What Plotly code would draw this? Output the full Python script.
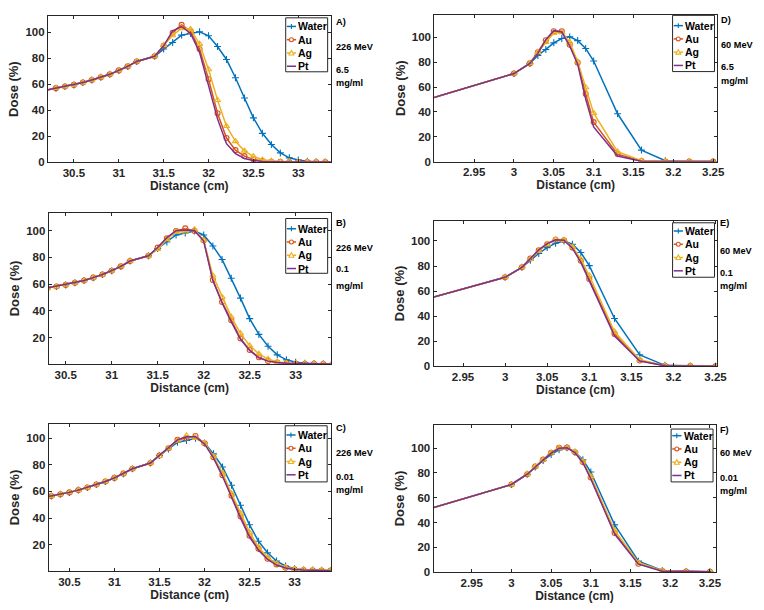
import plotly.graph_objects as go

W, H = 764, 610

# ---------------- data ----------------
# 226 MeV panels (A, B, C): distance in cm
x226 = [30.0, 30.3, 30.4, 30.5, 30.6, 30.7, 30.8, 30.9, 31.0, 31.1, 31.2, 31.4,
        31.5, 31.6, 31.7, 31.8, 31.9, 32.0, 32.1, 32.2, 32.3, 32.4, 32.5, 32.6,
        32.7, 32.8, 32.9, 33.0, 33.1, 33.2, 33.3, 33.4]

a_entry = [52.8, 57, 58.2, 59.5, 61.3, 63.3, 65.3, 67.6, 70.6, 73.7, 77.5, 81.5]
a_water = a_entry + [87, 92, 97.7, 99, 100.3, 97.2, 89, 79, 65, 49.4, 34.2, 22.3, 13.7, 7.3, 3.5, 1.8, 0.8, 0.5, 0.3, 0.2]
a_au = a_entry + [89.5, 99.5, 105.6, 100.5, 87, 63.8, 37.7, 18.7, 9.4, 4.8, 2.3, 1.0, 0.5, 0.4, 0.3, 0.3, 0.2, 0.2, 0.2, 0.2]
a_ag = a_entry + [90, 97.5, 103, 102.3, 90.9, 71.4, 47.8, 27.8, 16.2, 8.9, 4.6, 2.0, 1.2, 0.7, 0.5, 0.4, 0.3, 0.3, 0.3, 0.3]
a_pt = a_entry + [89.5, 101, 104.3, 99, 84.5, 60, 33.4, 14.4, 6.8, 3.0, 1.5, 0.7, 0.4, 0.3, 0.2, 0.2, 0.2, 0.2, 0.2, 0.2]

b_entry = [53, 57, 58.3, 59.5, 61, 62.7, 64.9, 67.2, 70.1, 73.3, 77.3, 81.2]
b_water = b_entry + [86.7, 91.6, 96.8, 98.3, 99.8, 96.8, 88.6, 78.5, 64.4, 49.6, 34.3, 22.5, 13.6, 7.2, 3.5, 1.7, 1.0, 0.7, 0.5, 0.4]
b_au = b_entry + [87.4, 94.3, 99.8, 101.7, 99.8, 92.8, 63.2, 46.7, 33.1, 19.5, 10.9, 5.4, 2.7, 1.5, 1.0, 0.7, 0.6, 0.5, 0.4, 0.4]
b_ag = b_entry + [86.2, 93.6, 99, 99.3, 101, 92.8, 66.4, 50.4, 35.6, 23.2, 14.1, 7.9, 4.0, 2.0, 1.0, 0.7, 0.6, 0.5, 0.4, 0.4]
b_pt = b_entry + [87.4, 94.8, 100, 100.5, 100.2, 92.3, 62.7, 45.9, 31.9, 18.8, 10.4, 4.9, 2.5, 1.4, 0.9, 0.7, 0.6, 0.5, 0.4, 0.4]

c_entry = [52.6, 56.5, 57.8, 59.3, 61, 63, 65.2, 67.5, 70.2, 73.4, 77.1, 81.4]
c_water = c_entry + [87.1, 92, 97, 98.3, 100, 96.5, 88.3, 78.4, 64.7, 49.6, 34.9, 22.5, 13.8, 7.6, 3.9, 1.9, 1.1, 0.9, 0.6, 0.5]
c_au = c_entry + [87, 92.5, 98.8, 100.2, 101.7, 96.3, 85.8, 72.2, 56.8, 41.1, 26.7, 16.8, 9.3, 5.1, 2.6, 1.4, 0.8, 0.6, 0.5, 0.4]
c_ag = c_entry + [86.6, 92.5, 98.3, 102, 100.2, 96.5, 86.3, 73.9, 58.5, 43.6, 29.2, 18, 10.3, 5.6, 2.9, 1.6, 1.1, 0.9, 0.7, 0.6]
c_pt = c_entry + [87, 92.5, 98.8, 101.2, 101.2, 95.8, 85.3, 71.4, 55.5, 39.9, 25.7, 15.8, 8.8, 4.6, 2.4, 1.3, 0.8, 0.6, 0.5, 0.4]

# 60 MeV panels (D, E, F)
x60 = [2.85, 3.0, 3.02, 3.03, 3.04, 3.05, 3.06, 3.07, 3.08, 3.09, 3.10, 3.13, 3.16, 3.19, 3.22, 3.25]

d_water = [42, 70.8, 79, 85.4, 90.2, 95.5, 99, 100.3, 97.3, 91, 80.9, 38.5, 9.3, 0.8, 0.2, 0.1]
d_au = [42, 70.8, 79, 88, 97.6, 104.8, 104.8, 94, 79.6, 54.4, 31.8, 6.1, 0.5, 0.2, 0.1, 0.1]
d_ag = [42, 70.8, 79, 88, 96, 103.4, 103.9, 96, 80.4, 59.7, 39, 8, 0.8, 0.3, 0.2, 0.1]
d_pt = [42, 70.8, 79, 87, 98.1, 105.3, 104.2, 92.8, 78.2, 50.4, 27.9, 4.5, 0.3, 0.1, 0.1, 0.1]

e_water = [43.3, 71, 79, 84.7, 90, 94.7, 98.2, 100, 97.4, 90.8, 80.3, 38.2, 9.2, 0.8, 0.3, 0.1]
e_au = [43.3, 71, 79, 86, 92.6, 97.4, 101, 100.5, 94.7, 84.2, 69.7, 25.8, 4.7, 0.5, 0.2, 0.1]
e_ag = [43.3, 71, 79, 85.5, 92, 97.4, 101.3, 100.8, 95.3, 85.5, 72.4, 27.6, 5.3, 0.5, 0.2, 0.1]
e_pt = [43.3, 71, 79, 86, 92.9, 97.9, 101, 100.5, 94.2, 82.9, 68.4, 24.2, 4.2, 0.5, 0.2, 0.1]

f_water = [42.1, 70.7, 79, 84.8, 90.1, 94.9, 98.7, 100.3, 96.8, 90.7, 80.8, 38.1, 8.8, 1.3, 0.5, 0.3]
f_au = [42.1, 70.7, 79, 85.3, 90.9, 96.3, 100.3, 100.5, 96.8, 88.8, 76.3, 31.5, 6.7, 0.8, 0.3, 0.2]
f_ag = [42.1, 70.7, 79, 85.3, 90.7, 96.5, 100.3, 100.5, 97.1, 89.3, 77.3, 33.6, 7.5, 1.0, 0.4, 0.2]
f_pt = [42.1, 70.7, 79, 85.0, 90.5, 96.0, 100.0, 100.3, 96.5, 88.3, 75.2, 30.7, 6.4, 0.7, 0.3, 0.2]

series_names = ["Water", "Au", "Ag", "Pt"]
panel_labels = ["A)", "B)", "C)", "D)", "E)", "F)"]
energies = ["226 MeV", "226 MeV", "226 MeV", "60 MeV", "60 MeV", "60 MeV"]
concs = ["6.5", "0.1", "0.01", "6.5", "0.1", "0.01"]
x_ticks_226 = [30.5, 31, 31.5, 32, 32.5, 33]
x_ticks_60 = [2.95, 3.0, 3.05, 3.1, 3.15, 3.2, 3.25]
x_ticktext_60 = ["2.95", "3", "3.05", "3.1", "3.15", "3.2", "3.25"]

# ---------------- style / layout ----------------
colors = ["#0072BD", "#D95319", "#EDB120", "#7E2F8E"]
symbols = ["cross-thin-open", "circle-open", "triangle-up-open", None]
msizes = [5, 5, 5.5, 0]
FONT = "Liberation Sans, Arial, sans-serif"
INK = "#262626"


def px(x):
    return x / W


def py(y):
    return 1 - y / H


panels = [
    dict(x=x226, ys=[a_water, a_au, a_ag, a_pt], box=(48.5, 335, 16, 164), xr=[30.21, 33.36], yr=[0, 112.5],
         yt=[0, 20, 40, 60, 80, 100], leg=(289.5, 18, 72.5, 26.7), txt=(338, [22, 47, 71, 84])),
    dict(x=x226, ys=[b_water, b_au, b_ag, b_pt], box=(49.3, 335, 215, 367.7), xr=[30.315, 33.38], yr=[0.3, 113.3],
         yt=[20, 40, 60, 80, 100], leg=(289.5, 220.7, 276, 231), txt=(338, [225, 250, 272, 289])),
    dict(x=x226, ys=[c_water, c_au, c_ag, c_pt], box=(49.3, 335, 428.3, 576.7), xr=[30.27, 33.40], yr=[0.1, 110.7],
         yt=[20, 40, 60, 80, 100], leg=(289, 430, 486.7, 439.3), txt=(338, [432, 457, 482, 495])),
    dict(x=x60, ys=[d_water, d_au, d_ag, d_pt], box=(440, 726.7, 15, 163.3), xr=[2.90, 3.255], yr=[0, 118],
         yt=[0, 20, 40, 60, 80, 100], leg=(681.5, 15.5, 72.3, 25.9), txt=(729, [20, 45, 68, 82])),
    dict(x=x60, ys=[e_water, e_au, e_ag, e_pt], box=(439.3, 726.7, 222.7, 370), xr=[2.915, 3.252], yr=[0, 116.3],
         yt=[0, 20, 40, 60, 80, 100], leg=(681.5, 225, 280, 233.3), txt=(728, [225, 253, 276, 289])),
    dict(x=x60, ys=[f_water, f_au, f_ag, f_pt], box=(439.3, 725, 429.3, 577.7), xr=[2.902, 3.257], yr=[0, 118.7],
         yt=[0, 20, 40, 60, 80, 100], leg=(680, 433.3, 486.7, 440), txt=(728, [434, 458, 483, 496])),
]

LEG_W, ROW = 42.5, 13.4

fig = go.Figure()
layout = dict(
    width=W, height=H, margin=dict(l=0, r=0, t=0, b=0, pad=0),
    paper_bgcolor="white", plot_bgcolor="white",
    font=dict(family=FONT, size=11, color=INK),
    showlegend=False, annotations=[], shapes=[],
)

for i, p in enumerate(panels):
    k = "" if i == 0 else str(i + 1)
    xa, ya = "x" + k, "y" + k
    for j, name in enumerate(series_names):
        tr = dict(x=p["x"], y=p["ys"][j], name=name, xaxis=xa, yaxis=ya,
                  line=dict(color=colors[j], width=1.5))
        if symbols[j]:
            tr["mode"] = "lines+markers"
            tr["marker"] = dict(symbol=symbols[j], size=msizes[j], color=colors[j],
                                line=dict(color=colors[j], width=1.1))
        else:
            tr["mode"] = "lines"
        fig.add_trace(go.Scatter(**tr))

    x0, x1, y0, y1 = p["box"]
    axis_common = dict(showline=True, linecolor=INK, linewidth=1, mirror="ticks",
                       ticks="inside", ticklen=3, tickcolor=INK, showgrid=False, zeroline=False,
                       tickfont=dict(family=FONT, size=11.5, color=INK, weight="bold"))
    is60 = p["x"] is x60
    xaxis = dict(domain=[px(x0), px(x1)], range=p["xr"], anchor=ya,
                 tickvals=x_ticks_60 if is60 else x_ticks_226,
                 ticktext=x_ticktext_60 if is60 else [str(v) for v in x_ticks_226],
                 title=dict(text="<b>Distance (cm)</b>", font=dict(family=FONT, size=12, color=INK), standoff=3),
                 **axis_common)
    yaxis = dict(domain=[py(y1), py(y0)], range=p["yr"], anchor=xa, tickvals=p["yt"],
                 title=dict(text="<b>Dose (%)</b>", font=dict(family=FONT, size=13, color=INK), standoff=3),
                 **axis_common)
    layout["xaxis" + k] = xaxis
    layout["yaxis" + k] = yaxis

    # legend box (MATLAB style, compact)
    L, T, B, R0 = p["leg"]
    layout["shapes"].append(dict(type="rect", xref="paper", yref="paper", x0=px(L), x1=px(L + LEG_W),
                                 y0=py(B), y1=py(T), fillcolor="white",
                                 line=dict(color=INK, width=1), layer="above"))
    for j, name in enumerate(series_names):
        ry = R0 + ROW * j
        c = colors[j]
        layout["shapes"].append(dict(type="line", xref="paper", yref="paper", x0=px(L + 1.2), x1=px(L + 10.5),
                                     y0=py(ry), y1=py(ry), line=dict(color=c, width=1.5), layer="above"))
        mx = L + 5.8
        if j == 0:
            layout["shapes"].append(dict(type="line", xref="paper", yref="paper", x0=px(mx), x1=px(mx),
                                         y0=py(ry - 2.5), y1=py(ry + 2.5), line=dict(color=c, width=1.1),
                                         layer="above"))
        elif j == 1:
            layout["shapes"].append(dict(type="circle", xref="paper", yref="paper", x0=px(mx - 2), x1=px(mx + 2),
                                         y0=py(ry + 2), y1=py(ry - 2), fillcolor="white",
                                         line=dict(color=c, width=1.1), layer="above"))
        elif j == 2:
            path = "M {:.5f} {:.5f} L {:.5f} {:.5f} L {:.5f} {:.5f} Z".format(
                px(mx - 2.5), py(ry + 2), px(mx + 2.5), py(ry + 2), px(mx), py(ry - 2.6))
            layout["shapes"].append(dict(type="path", xref="paper", yref="paper", path=path, fillcolor="white",
                                         line=dict(color=c, width=1.1), layer="above"))
        layout["annotations"].append(dict(text="<b>" + name + "</b>", x=px(L + 10.8), y=py(ry), xref="paper",
                                          yref="paper", xanchor="left", yanchor="middle", showarrow=False,
                                          font=dict(family=FONT, size=10.5, color="black")))

    tx, tys = p["txt"]
    texts = [panel_labels[i], energies[i], concs[i], "mg/ml"]
    for t, ty in zip(texts, tys):
        layout["annotations"].append(dict(text="<b>" + t + "</b>", x=px(tx), y=py(ty), xref="paper", yref="paper",
                                          xanchor="left", yanchor="middle", showarrow=False,
                                          font=dict(family=FONT, size=9.2, color="black")))

fig.update_layout(**layout)
fig.write_html("out.html", config={"displayModeBar": False},
               post_script="document.body.style.margin='0';document.body.style.overflow='hidden';")
